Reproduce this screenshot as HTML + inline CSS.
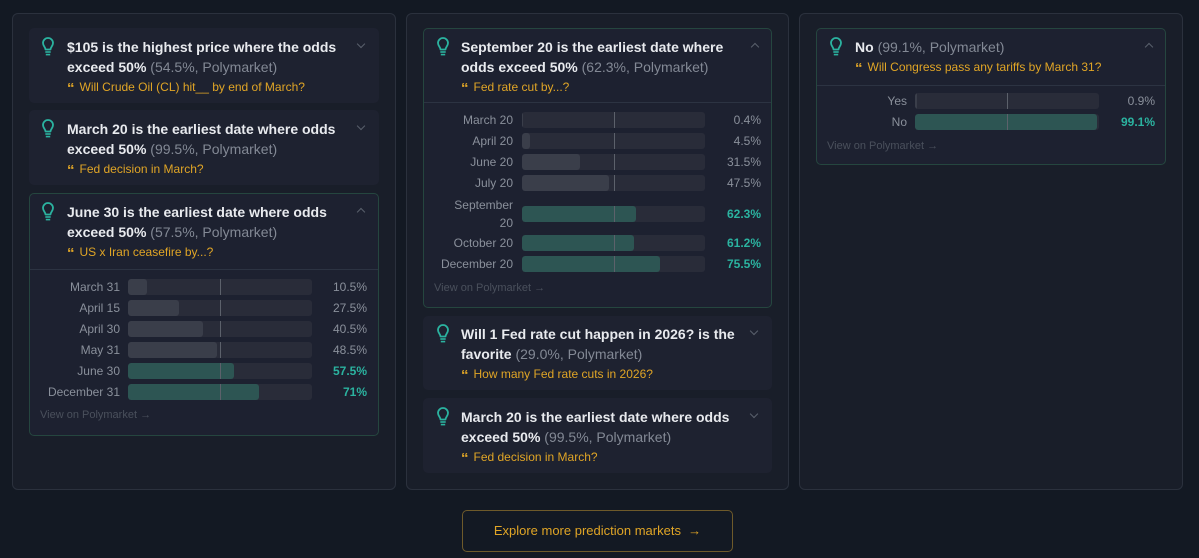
<!DOCTYPE html>
<html><head><meta charset="utf-8"><style>
*{box-sizing:border-box;margin:0;padding:0}
body{width:1199px;height:558px;background:#131923;font-family:"Liberation Sans",sans-serif;position:relative;overflow:hidden}
.col{position:absolute;top:13px;height:477px;background:#191e29;border:1px solid #2b313d;border-radius:6px}
.card{position:absolute;background:#1e2230;border-radius:5px}
.card.open{border:1px solid #25463f;background:#1d2130}
.ic{position:absolute;width:14px;height:20px}
.t{position:absolute;color:#e8eaee;font-weight:bold;font-size:14px;line-height:20px}
.t span{color:#838995;font-weight:normal}
.q{position:absolute;color:#e0a526;font-size:12px;line-height:20px}
.q b{font-size:15px;margin-right:5px;font-weight:bold;position:relative;top:2px}
.chev{position:absolute;width:6px;height:6px;border-right:1.3px solid #5a606c;border-bottom:1.3px solid #5a606c;transform:rotate(45deg)}
.chev.up{transform:rotate(-135deg)}
.div{position:absolute;height:1px;background:#2c3342}
.lab{position:absolute;text-align:right;color:#8a909b;font-size:12px;line-height:16px}
.bar{position:absolute;height:16px;background:#292c39;border-radius:3px;overflow:hidden}
.bar i{position:absolute;left:0;top:0;bottom:0;background:#3a3e4a;border-radius:3px}
.bar i.g{background:#2d5553}
.bar em{position:absolute;left:50%;top:0;bottom:0;width:1px;background:#5c616b}
.val{position:absolute;text-align:right;color:#8a909b;font-size:12px;line-height:16px;width:60px}
.val.g{color:#2bb3a0;font-weight:bold}
.link{position:absolute;color:#4a505c;font-size:11px;line-height:14px}
.btn{position:absolute;left:462px;top:510px;width:271px;height:42px;border:1px solid #6e5a2a;border-radius:5px;color:#e0a526;font-size:13px;line-height:40px;text-align:center}
</style></head><body>
<svg width="0" height="0" style="position:absolute"><defs><symbol id="bulb" viewBox="0 0 14 20"><path d="M4.5 12.5 C4.5 10 2 9 2 6 A5 5 0 0 1 12 6 C12 9 9.5 10 9.5 12.5 Z" fill="none" stroke="#2bb3a0" stroke-width="1.8" stroke-linejoin="round"/><line x1="4.3" y1="15" x2="9.7" y2="15" stroke="#2bb3a0" stroke-width="1.6"/><line x1="4.8" y1="17.6" x2="9.2" y2="17.6" stroke="#2bb3a0" stroke-width="1.6"/></symbol></defs></svg>

<div class="col" style="left:12px;width:384px"></div>
<div class="col" style="left:406px;width:383px"></div>
<div class="col" style="left:799px;width:384px"></div>

<!-- col1 -->
<div class="card" style="left:29px;top:28px;width:350px;height:75px"></div>
<svg class="ic" style="left:41px;top:37px"><use href="#bulb"/></svg>
<div class="t" style="left:67px;top:37px;width:290px">$105 is the highest price where the odds exceed 50% <span>(54.5%, Polymarket)</span></div>
<div class="q" style="left:67px;top:77px"><b>“</b>Will Crude Oil (CL) hit__ by end of March?</div>
<div class="chev" style="left:358px;top:41px"></div>

<div class="card" style="left:29px;top:110px;width:350px;height:75px"></div>
<svg class="ic" style="left:41px;top:119px"><use href="#bulb"/></svg>
<div class="t" style="left:67px;top:119px;width:290px">March 20 is the earliest date where odds exceed 50% <span>(99.5%, Polymarket)</span></div>
<div class="q" style="left:67px;top:159px"><b>“</b>Fed decision in March?</div>
<div class="chev" style="left:358px;top:123px"></div>

<div class="card open" style="left:29px;top:193px;width:350px;height:243px"></div>
<svg class="ic" style="left:41px;top:202px"><use href="#bulb"/></svg>
<div class="t" style="left:67px;top:202px;width:290px">June 30 is the earliest date where odds exceed 50% <span>(57.5%, Polymarket)</span></div>
<div class="q" style="left:67px;top:242px"><b>“</b>US x Iran ceasefire by...?</div>
<div class="chev up" style="left:358px;top:209px"></div>
<div class="div" style="left:30px;top:269px;width:348px"></div>

<div class="lab" style="left:20px;width:100px;top:279px">March 31</div><div class="bar" style="left:128px;top:279px;width:184px"><i style="width:10.5%"></i><em></em></div><div class="val" style="left:307px;top:279px">10.5%</div>
<div class="lab" style="left:20px;width:100px;top:300px">April 15</div><div class="bar" style="left:128px;top:300px;width:184px"><i style="width:27.5%"></i><em></em></div><div class="val" style="left:307px;top:300px">27.5%</div>
<div class="lab" style="left:20px;width:100px;top:321px">April 30</div><div class="bar" style="left:128px;top:321px;width:184px"><i style="width:40.5%"></i><em></em></div><div class="val" style="left:307px;top:321px">40.5%</div>
<div class="lab" style="left:20px;width:100px;top:342px">May 31</div><div class="bar" style="left:128px;top:342px;width:184px"><i style="width:48.5%"></i><em></em></div><div class="val" style="left:307px;top:342px">48.5%</div>
<div class="lab" style="left:20px;width:100px;top:363px">June 30</div><div class="bar" style="left:128px;top:363px;width:184px"><i class="g" style="width:57.5%"></i><em></em></div><div class="val g" style="left:307px;top:363px">57.5%</div>
<div class="lab" style="left:20px;width:100px;top:384px">December 31</div><div class="bar" style="left:128px;top:384px;width:184px"><i class="g" style="width:71%"></i><em></em></div><div class="val g" style="left:307px;top:384px">71%</div>
<div class="link" style="left:40px;top:408px">View on Polymarket →</div>

<!-- col2 -->
<div class="card open" style="left:423px;top:28px;width:349px;height:280px"></div>
<svg class="ic" style="left:436px;top:37px"><use href="#bulb"/></svg>
<div class="t" style="left:461px;top:37px;width:290px">September 20 is the earliest date where odds exceed 50% <span>(62.3%, Polymarket)</span></div>
<div class="q" style="left:461px;top:77px"><b>“</b>Fed rate cut by...?</div>
<div class="chev up" style="left:752px;top:44px"></div>
<div class="div" style="left:424px;top:102px;width:347px"></div>

<div class="lab" style="left:413px;width:100px;top:112px">March 20</div><div class="bar" style="left:522px;top:112px;width:183px"><i style="width:0.4%"></i><em></em></div><div class="val" style="left:701px;top:112px">0.4%</div>
<div class="lab" style="left:413px;width:100px;top:133px">April 20</div><div class="bar" style="left:522px;top:133px;width:183px"><i style="width:4.5%"></i><em></em></div><div class="val" style="left:701px;top:133px">4.5%</div>
<div class="lab" style="left:413px;width:100px;top:154px">June 20</div><div class="bar" style="left:522px;top:154px;width:183px"><i style="width:31.5%"></i><em></em></div><div class="val" style="left:701px;top:154px">31.5%</div>
<div class="lab" style="left:413px;width:100px;top:175px">July 20</div><div class="bar" style="left:522px;top:175px;width:183px"><i style="width:47.5%"></i><em></em></div><div class="val" style="left:701px;top:175px">47.5%</div>
<div class="lab" style="left:413px;width:100px;top:196px;line-height:18px">September<br>20</div><div class="bar" style="left:522px;top:206px;width:183px"><i class="g" style="width:62.3%"></i><em></em></div><div class="val g" style="left:701px;top:206px">62.3%</div>
<div class="lab" style="left:413px;width:100px;top:235px">October 20</div><div class="bar" style="left:522px;top:235px;width:183px"><i class="g" style="width:61.2%"></i><em></em></div><div class="val g" style="left:701px;top:235px">61.2%</div>
<div class="lab" style="left:413px;width:100px;top:256px">December 20</div><div class="bar" style="left:522px;top:256px;width:183px"><i class="g" style="width:75.5%"></i><em></em></div><div class="val g" style="left:701px;top:256px">75.5%</div>
<div class="link" style="left:434px;top:281px">View on Polymarket →</div>

<div class="card" style="left:423px;top:316px;width:349px;height:74px"></div>
<svg class="ic" style="left:436px;top:324px"><use href="#bulb"/></svg>
<div class="t" style="left:461px;top:324px;width:290px">Will 1 Fed rate cut happen in 2026? is the favorite <span>(29.0%, Polymarket)</span></div>
<div class="q" style="left:461px;top:364px"><b>“</b>How many Fed rate cuts in 2026?</div>
<div class="chev" style="left:751px;top:328px"></div>

<div class="card" style="left:423px;top:398px;width:349px;height:75px"></div>
<svg class="ic" style="left:436px;top:407px"><use href="#bulb"/></svg>
<div class="t" style="left:461px;top:407px;width:290px">March 20 is the earliest date where odds exceed 50% <span>(99.5%, Polymarket)</span></div>
<div class="q" style="left:461px;top:447px"><b>“</b>Fed decision in March?</div>
<div class="chev" style="left:751px;top:411px"></div>

<!-- col3 -->
<div class="card open" style="left:816px;top:28px;width:350px;height:137px"></div>
<svg class="ic" style="left:829px;top:37px"><use href="#bulb"/></svg>
<div class="t" style="left:855px;top:37px;width:290px">No <span>(99.1%, Polymarket)</span></div>
<div class="q" style="left:855px;top:57px"><b>“</b>Will Congress pass any tariffs by March 31?</div>
<div class="chev up" style="left:1146px;top:44px"></div>
<div class="div" style="left:817px;top:85px;width:348px"></div>
<div class="lab" style="left:807px;width:100px;top:93px">Yes</div><div class="bar" style="left:915px;top:93px;width:184px"><i style="width:0.9%"></i><em></em></div><div class="val" style="left:1095px;top:93px">0.9%</div>
<div class="lab" style="left:807px;width:100px;top:114px">No</div><div class="bar" style="left:915px;top:114px;width:184px"><i class="g" style="width:99.1%"></i><em></em></div><div class="val g" style="left:1095px;top:114px">99.1%</div>
<div class="link" style="left:827px;top:139px">View on Polymarket →</div>

<div class="btn">Explore more prediction markets &nbsp;→</div>
</body></html>
